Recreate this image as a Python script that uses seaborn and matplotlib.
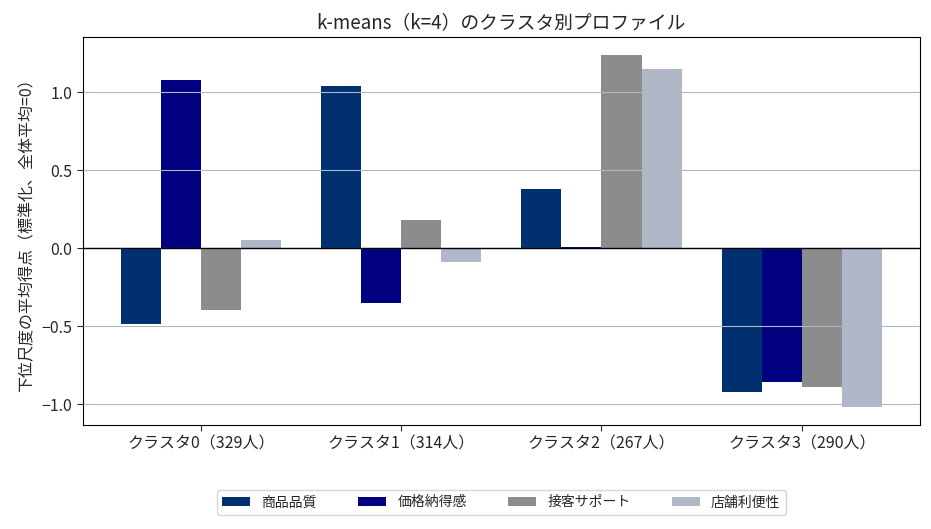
import pandas as pd
import seaborn as sns
import matplotlib.pyplot as plt

# Cluster profile data (standardized means)
clusters = ['クラスタ0（329人）', 'クラスタ1（314人）', 'クラスタ2（267人）', 'クラスタ3（290人）']
scales = ['商品品質', '価格納得感', '接客サポート', '店舗利便性']
quality = [-0.49, 1.04, 0.38, -0.92]
price = [1.08, -0.35, 0.01, -0.86]
service = [-0.40, 0.18, 1.24, -0.89]
convenience = [0.05, -0.09, 1.15, -1.02]
colors = ['#00306f', '#000080', '#8c8c8c', '#b0b7c6']

rows = []
for name, vals in zip(scales, [quality, price, service, convenience]):
    for c, v in zip(clusters, vals):
        rows.append({'cluster': c, 'scale': name, 'value': v})
df = pd.DataFrame(rows)

sns.set_style('white')
plt.rcParams['font.family'] = ['Noto Sans CJK JP', 'DejaVu Sans']
plt.rcParams['axes.unicode_minus'] = True

fig, ax = plt.subplots(figsize=(9.31, 5.29), dpi=100)
sns.barplot(data=df, x='cluster', y='value', hue='scale', palette=colors,
            width=0.8, saturation=1, linewidth=0, edgecolor='none', ax=ax)
ax.axhline(0, color='black', linewidth=1, zorder=3)
ax.set_axisbelow(False)
ax.yaxis.grid(True, color='#b0b7c6', linewidth=0.8)
# matplotlib-like default margins around the bar groups
n = len(clusters)
pad = 0.05 * (n - 1 + 0.8)
ax.set_xlim(-0.4 - pad, n - 1 + 0.4 + pad)
ax.set_title('k-means（k=4）のクラスタ別プロファイル', fontsize=13.5)
ax.set_xlabel('')
ax.set_ylabel('下位尺度の平均得点（標準化、全体平均=0）', fontsize=11.5)
ax.tick_params(axis='both', which='both', length=4, labelsize=11.5, left=True, bottom=True)
for s in ax.spines.values():
    s.set_color('black')
    s.set_linewidth(0.8)
ax.legend(loc='upper center', bbox_to_anchor=(0.5, -0.15), ncol=4, fontsize=10,
          frameon=True, handlelength=2.0, columnspacing=3.0)
plt.subplots_adjust(left=0.089, right=0.988, top=0.93, bottom=0.197)
plt.savefig('out.png', dpi=100)
